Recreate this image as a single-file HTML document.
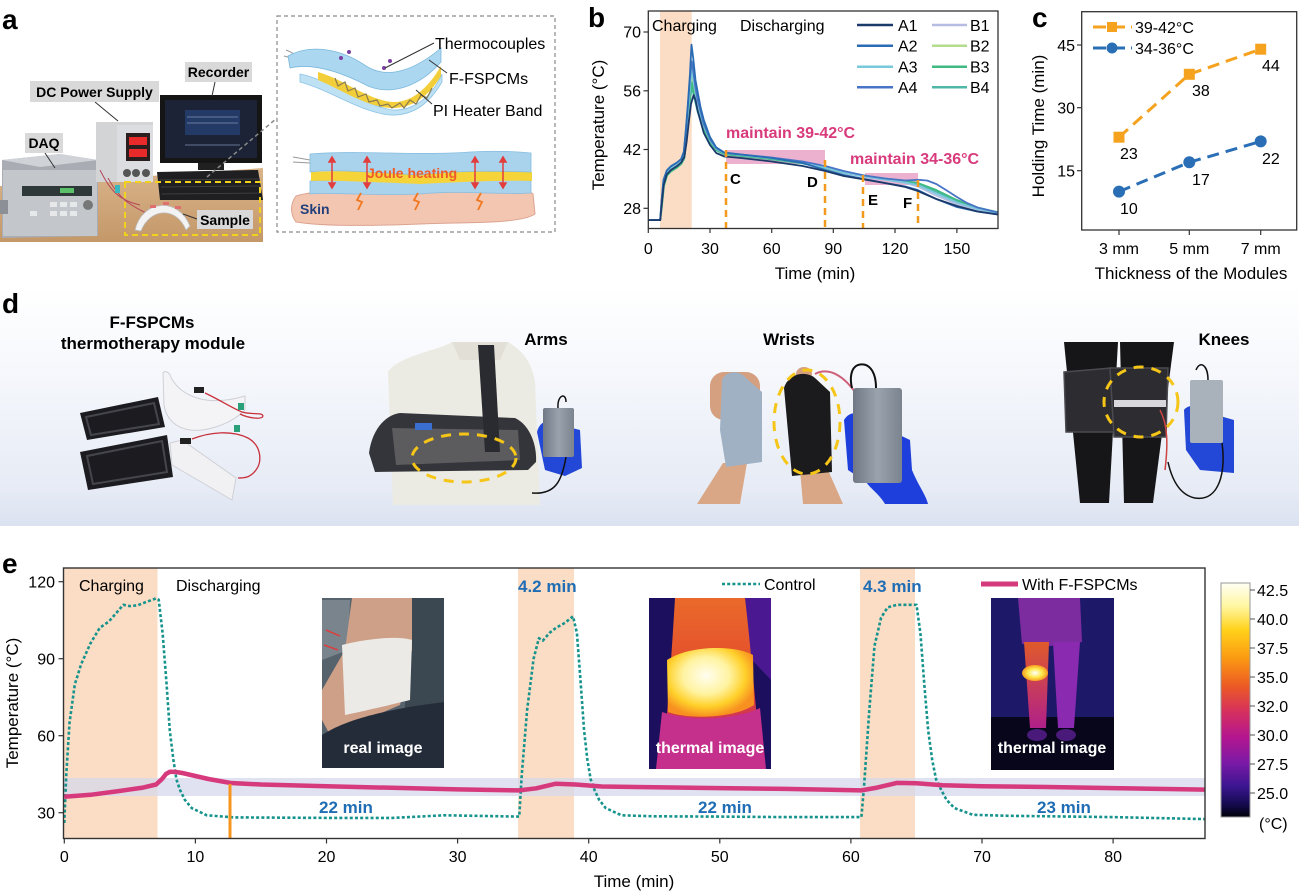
<!DOCTYPE html>
<html><head><meta charset="utf-8"><style>
html,body{margin:0;padding:0;background:#fff;}
svg{display:block;font-family:"Liberation Sans",Arial,sans-serif;}
</style></head><body>
<svg width="1299" height="892" viewBox="0 0 1299 892" xmlns="http://www.w3.org/2000/svg">
<defs>
<linearGradient id="dbg" x1="0" y1="0" x2="0" y2="1">
<stop offset="0" stop-color="#ffffff"/><stop offset="0.35" stop-color="#f6f8fc"/><stop offset="0.85" stop-color="#e6ebf5"/><stop offset="1" stop-color="#dbe2f0"/>
</linearGradient>
<linearGradient id="cbar" x1="0" y1="0" x2="0" y2="1">
<stop offset="0" stop-color="#fffff4"/><stop offset="0.1" stop-color="#fff6a0"/><stop offset="0.2" stop-color="#ffd21a"/><stop offset="0.32" stop-color="#fb9a12"/><stop offset="0.44" stop-color="#ec5a24"/><stop offset="0.55" stop-color="#d6305e"/><stop offset="0.66" stop-color="#b3168f"/><stop offset="0.77" stop-color="#7a1aa6"/><stop offset="0.87" stop-color="#3a1590"/><stop offset="0.95" stop-color="#120a4a"/><stop offset="1" stop-color="#000008"/>
</linearGradient>
<linearGradient id="leg1" x1="0" y1="0" x2="0" y2="1">
<stop offset="0" stop-color="#ea6a2a"/><stop offset="0.5" stop-color="#e2482e"/><stop offset="1" stop-color="#b8188c"/>
</linearGradient>
<radialGradient id="hot1" cx="0.45" cy="0.4" r="0.6">
<stop offset="0" stop-color="#fffef0"/><stop offset="0.45" stop-color="#fff3a0"/><stop offset="0.75" stop-color="#ffd02a"/><stop offset="1" stop-color="#f79020"/>
</radialGradient>
<radialGradient id="hot2" cx="0.5" cy="0.5" r="0.55">
<stop offset="0" stop-color="#ffffff"/><stop offset="0.5" stop-color="#ffe84a"/><stop offset="1" stop-color="#f58a1a"/>
</radialGradient>
<linearGradient id="leg2" x1="0" y1="0" x2="0" y2="1">
<stop offset="0" stop-color="#e05a2a"/><stop offset="1" stop-color="#b0208a"/>
</linearGradient>
<linearGradient id="bank" x1="0" y1="0" x2="1" y2="0">
<stop offset="0" stop-color="#6f7884"/><stop offset="0.5" stop-color="#9aa3ad"/><stop offset="1" stop-color="#7a838e"/>
</linearGradient>
<linearGradient id="desk" x1="0" y1="0" x2="0" y2="1">
<stop offset="0" stop-color="#d9b48a"/><stop offset="1" stop-color="#c49869"/>
</linearGradient>
<clipPath id="cr"><rect x="322" y="598" width="122" height="170"/></clipPath>
<clipPath id="ct1"><rect x="649" y="598" width="122" height="171"/></clipPath>
<clipPath id="ct2"><rect x="991" y="598" width="123" height="172"/></clipPath>
</defs>

<!-- ===================== PANEL A ===================== -->
<text x="2" y="29" font-size="28" font-weight="bold">a</text>
<!-- desk -->
<path d="M0,186 L150,176 L263,168 L263,242 L0,242 Z" fill="url(#desk)"/>
<!-- DAQ -->
<path d="M2,160 L60,154 L98,160 L98,236 L2,238 Z" fill="#a9adb3"/>
<path d="M2,160 L60,154 L98,160 L40,167 Z" fill="#cfd3d7"/>
<rect x="3" y="170" width="94" height="66" fill="#c3c7cc"/>
<rect x="22" y="186" width="70" height="10" fill="#2e3838"/>
<rect x="60" y="188" width="14" height="5" fill="#5ac06a"/>
<g fill="#e6e8ea"><rect x="50" y="202" width="7" height="5"/><rect x="60" y="202" width="7" height="5"/><rect x="70" y="202" width="7" height="5"/><rect x="50" y="211" width="7" height="5"/><rect x="60" y="211" width="7" height="5"/><rect x="70" y="211" width="7" height="5"/><rect x="30" y="211" width="7" height="5"/></g>
<circle cx="88" cy="205" r="5" fill="#777"/>
<rect x="0" y="200" width="8" height="14" fill="#8c9096"/>
<!-- DC supply -->
<rect x="96" y="122" width="57" height="60" fill="#d2d4d6"/>
<rect x="117" y="125" width="36" height="57" fill="#dcdde0"/>
<rect x="126" y="133" width="24" height="28" fill="#2a1e1e"/>
<rect x="129" y="137" width="18" height="8" fill="#e82a2a"/>
<rect x="129" y="149" width="18" height="8" fill="#e82a2a"/>
<circle cx="127" cy="173" r="4" fill="#555"/><circle cx="136" cy="173" r="4" fill="#555"/><circle cx="146" cy="173" r="4" fill="#555"/>
<!-- monitor -->
<rect x="160" y="95" width="102" height="68" fill="#151515"/>
<rect x="165" y="100" width="92" height="58" fill="#1c2336"/>
<rect x="185" y="110" width="55" height="25" fill="#243a66"/>
<g stroke="#7f8fb0" stroke-width="0.8"><line x1="187" y1="117" x2="238" y2="117"/><line x1="187" y1="123" x2="238" y2="123"/><line x1="185" y1="145" x2="240" y2="145"/></g>
<rect x="198" y="163" width="26" height="7" fill="#202020"/>
<!-- keyboard -->
<path d="M157,172 L258,170 L263,200 L160,200 Z" fill="#1f1f21"/>
<g stroke="#3e3e42" stroke-width="1"><line x1="160" y1="180" x2="260" y2="179"/><line x1="161" y1="187" x2="261" y2="186"/><line x1="162" y1="194" x2="262" y2="193"/></g>
<!-- wires -->
<path d="M100,170 C110,190 118,200 140,205 M108,178 C120,200 130,205 150,215" stroke="#b5485a" stroke-width="1" fill="none"/>
<rect x="115" y="185" width="5" height="8" fill="#3ab8c0"/>
<!-- sample -->
<path d="M135,230 C142,200 178,196 190,226 L186,230 C176,206 150,208 141,231 Z" fill="#f3f3f3" stroke="#bbb" stroke-width="0.8"/>
<g fill="#e07070"><rect x="150" y="205" width="6" height="3"/><rect x="163" y="202" width="6" height="3"/><rect x="175" y="206" width="6" height="3"/></g>
<!-- yellow dashed -->
<rect x="125" y="182" width="135" height="53" fill="none" stroke="#f1d21c" stroke-width="2" stroke-dasharray="6 4"/>
<!-- gray leader to box -->
<line x1="207" y1="177" x2="277" y2="118" stroke="#8a8a8a" stroke-width="1.5" stroke-dasharray="4 3"/>
<!-- labels -->
<g stroke="#333" stroke-width="1"><line x1="215" y1="82" x2="212" y2="96"/><line x1="95" y1="102" x2="118" y2="121"/><line x1="45" y1="153" x2="55" y2="168"/><line x1="197" y1="219" x2="183" y2="214"/></g>
<rect x="185" y="62" width="67" height="20" fill="#d9d9d9"/>
<text x="218.5" y="77" font-size="14" font-weight="bold" text-anchor="middle">Recorder</text>
<rect x="30" y="81" width="129" height="21" fill="#d9d9d9"/>
<text x="94.5" y="97" font-size="14" font-weight="bold" text-anchor="middle">DC Power Supply</text>
<rect x="25" y="133" width="38" height="20" fill="#d9d9d9"/>
<text x="44" y="148" font-size="14" font-weight="bold" text-anchor="middle">DAQ</text>
<rect x="197" y="210" width="56" height="19" fill="#d9d9d9"/>
<text x="225" y="225" font-size="14" font-weight="bold" text-anchor="middle">Sample</text>

<!-- illustration box -->
<rect x="277" y="16" width="278" height="216" fill="none" stroke="#8a8a8a" stroke-width="1.2" stroke-dasharray="4 3"/>
<path d="M286,50 C292,52 295,55 300,58 M284,56 C292,58 296,60 302,62" stroke="#999" fill="none" stroke-width="1"/>
<path d="M300,74 C330,80 360,104 392,110 C415,111 432,96 442,74 L442,82 C430,102 415,116 390,115 C360,112 330,90 300,82 Z" fill="#bfe1f4" stroke="#8cc4e6" stroke-width="0.8"/>
<path d="M318,72 C345,80 366,99 392,102 C412,103 428,88 441,66 L441,76 C428,97 412,109 390,108 C365,106 342,90 318,80 Z" fill="#f2cf3a"/>
<g stroke="#8a7a50" stroke-width="1.2" fill="none"><path d="M335,78 L338,86 L345,82 L348,91 L355,88 L358,97 L366,94 L369,102 L377,100 L380,106 L388,104 L392,108 L400,103 L404,108 L410,100 L416,104 L421,95 L427,98 L432,88"/></g>
<path d="M288,56 C310,44 340,48 366,66 C388,80 415,70 441,48 L441,62 C420,86 392,96 368,86 C345,74 315,62 290,68 Z" fill="#acd7f0" stroke="#7ab8dd" stroke-width="0.8"/>
<g fill="#7b3fa0"><circle cx="349" cy="52" r="2"/><circle cx="341" cy="58" r="2"/><circle cx="390" cy="61" r="2"/><circle cx="384" cy="68" r="2"/></g>
<g stroke="#333" stroke-width="1"><line x1="434" y1="43" x2="385" y2="68"/><line x1="447" y1="73" x2="429" y2="60"/><line x1="432" y1="104" x2="416" y2="90"/></g>
<text x="435" y="49" font-size="16">Thermocouples</text>
<text x="449" y="84" font-size="16">F-FSPCMs</text>
<text x="433" y="116" font-size="16">PI Heater Band</text>
<!-- layered bottom -->
<path d="M296,196 C330,186 400,192 460,188 C500,186 525,188 533,194 L535,214 C520,224 470,222 420,224 C370,226 320,226 296,222 C290,214 290,204 296,196 Z" fill="#f3c6b2" stroke="#dca390" stroke-width="1"/>
<path d="M310,181 C360,178 420,184 470,180 C500,178 520,180 531,181 L531,193 C500,195 460,190 420,194 C370,196 330,192 310,194 Z" fill="#a9d3ec" stroke="#86bde0" stroke-width="0.8"/>
<path d="M311,172 C360,169 420,175 470,171 C500,169 520,171 532,172 L532,181 C500,180 460,182 420,184 C370,182 330,180 311,181 Z" fill="#f5d43a"/>
<path d="M310,154 C360,150 420,156 470,152 C500,150 520,152 531,153 L531,172 C500,171 460,170 420,175 C370,172 330,169 310,172 Z" fill="#a9d3ec" stroke="#86bde0" stroke-width="0.8"/>
<path d="M293,157 L310,160 M293,162 L310,163" stroke="#999" stroke-width="1"/>
<g stroke="#e23c3c" stroke-width="1.5" fill="#e23c3c">
<line x1="332" y1="159" x2="332" y2="186"/><line x1="367" y1="159" x2="367" y2="186"/><line x1="475" y1="159" x2="475" y2="186"/><line x1="503" y1="159" x2="503" y2="186"/>
<path d="M329,162 L332,157 L335,162 Z M329,183 L332,188 L335,183 Z M364,162 L367,157 L370,162 Z M364,183 L367,188 L370,183 Z M472,162 L475,157 L478,162 Z M472,183 L475,188 L478,183 Z M500,162 L503,157 L506,162 Z M500,183 L503,188 L506,183 Z"/>
</g>
<text x="367" y="178" font-size="14" font-weight="bold" fill="#f05a28">Joule heating</text>
<g stroke="#f07820" stroke-width="1.8" fill="none"><path d="M361,193 L357,200 L362,202 L358,210"/><path d="M418,193 L414,200 L419,202 L415,210"/><path d="M481,193 L477,200 L482,202 L478,210"/></g>
<text x="300" y="214" font-size="14" font-weight="bold" fill="#23407a">Skin</text>

<!-- ===================== PANEL B ===================== -->
<text x="588" y="27" font-size="28" font-weight="bold">b</text>
<rect x="660" y="11" width="31.7" height="217" fill="#fbdcc4"/>
<rect x="726" y="150" width="99" height="14" fill="#e8a3c6" opacity="0.85"/>
<rect x="865" y="173" width="53" height="12" fill="#e8a3c6" opacity="0.85"/>
<g fill="none" stroke-width="1.8" stroke-linejoin="round">
<polyline stroke="#b7bde2" points="648.3,220.1 660.2,220.1 661.7,204.1 663.7,183.1 666.8,173.5 670.9,169.3 677.1,165.5 681.2,162.1 684.3,155.8 686.4,137 688.4,111.8 690.5,86.6 691.9,74 693.6,86.6 697.7,107.6 703.8,128.6 710,141.2 716.2,149.6 724.4,153.7 740.9,155.4 771.7,158.8 802.6,163 825.2,168 843.7,173 864.3,176.8 884.9,179.8 905.4,183.1 917.8,186.5 936.3,195.7 956.9,204.1 977.4,210 998,213.4"/>
<polyline stroke="#b3dc8c" points="648.3,220.1 660.2,220.1 661.7,205 663.7,184 666.8,174.5 670.9,170.3 677.1,166.5 681.2,163 684.3,156.8 686.4,138 688.4,113 690.5,90 691.9,78.2 693.6,90 697.7,109 703.8,129.5 710,141.5 716.2,149.8 724.4,153.8 740.9,155.6 771.7,158.8 802.6,162.8 825.2,167.5 843.7,172.3 864.3,176 884.9,179 905.4,182 917.8,184.5 936.3,192 956.9,201.5 977.4,208.5 998,212.8"/>
<polyline stroke="#4fb7a8" points="648.3,220.1 660.2,220.1 661.9,206 663.9,186 667,175.5 671,171.3 677.1,167.5 681.2,164 684.3,158.5 686.4,141 688.4,119 690.5,97 691.9,86.6 693.6,95 697.7,112 703.8,131 710,142.5 716.2,150.3 724.4,154.3 740.9,156 771.7,159.3 802.6,163.5 825.2,168 843.7,172.8 864.3,176.3 884.9,179.3 905.4,182.3 917.8,184 936.3,191.5 956.9,201 977.4,208.2 998,212.6"/>
<polyline stroke="#3fba82" points="648.3,220.1 660.2,220.1 661.9,206 663.9,186 667,175.5 671,171.3 677.1,167.5 681.2,164 684.3,158 686.4,140 688.4,116 690.5,93 691.9,82.4 693.6,92 697.7,110 703.8,130 710,142 716.2,150 724.4,154 740.9,155.8 771.7,159 802.6,163 825.2,167.2 843.7,172 864.3,175.5 884.9,178.5 905.4,181 917.8,183 936.3,190 956.9,200 977.4,207.5 998,212.3"/>
<polyline stroke="#7ac8dc" points="648.3,220.1 660.2,220.1 661.6,203 663.6,182 666.8,172.5 670.9,168.3 677.1,164.5 681.2,161 684,154.5 686,136 688.2,110 690.3,84 691.9,69.8 693.6,82 697.7,104 703.8,126 710,140 716.2,148.8 724.4,153 740.9,155 771.7,158.2 802.6,162.5 825.2,167.5 843.7,172.5 864.3,176.5 884.9,179.5 905.4,182.5 917.8,185 936.3,193.5 956.9,202.5 977.4,209 998,213"/>
<polyline stroke="#4874c6" points="648.3,220.1 660.2,220.1 661.5,202 663.5,180 666.8,170.5 670.9,166.3 677.1,162.5 681.2,159 683.8,152 685.8,133 688,105 690,78 691.7,61.4 693.4,72 695.5,88 697.7,100 703.8,124 710,139 716.2,148 724.4,152.8 740.9,154.5 771.7,157.5 802.6,161.5 825.2,166 843.7,171 864.3,175.5 884.9,178.5 905.4,180.5 917.8,179.8 927,180.5 936.3,184 946,190 956.9,197 967,203 977.4,207.5 998,212.5"/>
<polyline stroke="#2a6cb4" points="648.3,220.1 660.2,220.1 661.5,202 663.5,180 666.8,170.5 670.9,166.3 677.1,162.5 681.2,159 683.8,152 685.8,130 687.8,105 689.9,75 691.5,44.6 693.2,58 695.5,80 697.7,92 700.7,108 703.8,120 710,137 716.2,147.4 724.4,152.5 740.9,154.5 771.7,158 802.6,163 825.2,170 843.7,175 864.3,179 884.9,183 905.4,186.5 917.8,190 936.3,199 956.9,207 977.4,211.5 998,214.5"/>
<polyline stroke="#1b3a6b" points="648.3,220.1 660.2,220.1 661.7,205 663.7,185 666.8,174.5 670.9,170 677.1,166 681.2,162.5 684.3,157 686.6,142 688.8,122 691,104 693.6,95 695.5,100 697.7,111 703.8,133 710,145 716.2,153 724.4,156.5 740.9,158 771.7,161.5 802.6,166 825.2,171 843.7,176 864.3,179.5 884.9,183 905.4,187 917.8,191 936.3,199 956.9,206 977.4,211.5 998,214.5"/>
</g>
<g stroke="#f39a1e" stroke-width="2.5" stroke-dasharray="7 5"><line x1="726" y1="150" x2="726" y2="228"/><line x1="825" y1="160" x2="825" y2="228"/><line x1="863" y1="175" x2="863" y2="228"/><line x1="918" y1="180" x2="918" y2="228"/></g>
<g font-size="15" font-weight="bold"><text x="730" y="184">C</text><text x="807" y="187">D</text><text x="868" y="205">E</text><text x="903" y="208">F</text></g>
<text x="726" y="138" font-size="16" font-weight="bold" fill="#d83a7c">maintain 39-42°C</text>
<text x="850" y="164" font-size="16" font-weight="bold" fill="#d83a7c">maintain 34-36°C</text>
<text x="652" y="31" font-size="16">Charging</text>
<text x="740" y="31" font-size="16">Discharging</text>
<g stroke-width="2.5">
<line x1="857" y1="25" x2="893" y2="25" stroke="#1b3a6b"/><line x1="857" y1="45.7" x2="893" y2="45.7" stroke="#2a6cb4"/><line x1="857" y1="66.7" x2="893" y2="66.7" stroke="#7ac8dc"/><line x1="857" y1="87.3" x2="893" y2="87.3" stroke="#4874c6"/>
<line x1="932" y1="25" x2="967" y2="25" stroke="#b7bde2"/><line x1="932" y1="45.7" x2="967" y2="45.7" stroke="#b3dc8c"/><line x1="932" y1="66.7" x2="967" y2="66.7" stroke="#3fba82"/><line x1="932" y1="87.3" x2="967" y2="87.3" stroke="#4fb7a8"/>
</g>
<g font-size="16"><text x="898" y="31">A1</text><text x="898" y="51.5">A2</text><text x="898" y="72.5">A3</text><text x="898" y="93">A4</text>
<text x="970" y="31">B1</text><text x="970" y="51.5">B2</text><text x="970" y="72.5">B3</text><text x="970" y="93">B4</text></g>
<rect x="648.3" y="11" width="349.7" height="217.5" fill="none" stroke="#333" stroke-width="1.3"/>
<g stroke="#333" stroke-width="1.2">
<line x1="648.3" y1="228.5" x2="648.3" y2="233"/><line x1="710" y1="228.5" x2="710" y2="233"/><line x1="771.7" y1="228.5" x2="771.7" y2="233"/><line x1="833.3" y1="228.5" x2="833.3" y2="233"/><line x1="895" y1="228.5" x2="895" y2="233"/><line x1="956.9" y1="228.5" x2="956.9" y2="233"/>
<line x1="643.5" y1="32" x2="648.3" y2="32"/><line x1="643.5" y1="90.8" x2="648.3" y2="90.8"/><line x1="643.5" y1="149.5" x2="648.3" y2="149.5"/><line x1="643.5" y1="208.3" x2="648.3" y2="208.3"/>
</g>
<g font-size="16" text-anchor="middle"><text x="648.3" y="254">0</text><text x="710" y="254">30</text><text x="771.7" y="254">60</text><text x="833.3" y="254">90</text><text x="895" y="254">120</text><text x="956.9" y="254">150</text></g>
<g font-size="16" text-anchor="end"><text x="641" y="37.7">70</text><text x="641" y="96.5">56</text><text x="641" y="155.2">42</text><text x="641" y="214">28</text></g>
<text x="815" y="279" font-size="17" text-anchor="middle">Time (min)</text>
<text transform="translate(604,125) rotate(-90)" font-size="17" text-anchor="middle">Temperature (°C)</text>

<!-- ===================== PANEL C ===================== -->
<text x="1032" y="27" font-size="28" font-weight="bold">c</text>
<rect x="1081.7" y="11.7" width="215" height="218.3" fill="none" stroke="#333" stroke-width="1.3"/>
<g stroke="#333" stroke-width="1.2">
<line x1="1119" y1="230" x2="1119" y2="235"/><line x1="1189.3" y1="230" x2="1189.3" y2="235"/><line x1="1260.7" y1="230" x2="1260.7" y2="235"/>
<line x1="1077" y1="45" x2="1081.7" y2="45"/><line x1="1077" y1="107.7" x2="1081.7" y2="107.7"/><line x1="1077" y1="170.7" x2="1081.7" y2="170.7"/>
</g>
<g font-size="16" text-anchor="end"><text x="1075" y="51">45</text><text x="1075" y="113.5">30</text><text x="1075" y="176.5">15</text></g>
<g font-size="16" text-anchor="middle"><text x="1119" y="254">3 mm</text><text x="1189.3" y="254">5 mm</text><text x="1260.7" y="254">7 mm</text></g>
<text x="1191" y="279" font-size="17" text-anchor="middle">Thickness of the Modules</text>
<text transform="translate(1044,126) rotate(-90)" font-size="17" text-anchor="middle">Holding Time (min)</text>
<polyline points="1119,137.2 1189.3,74.3 1260.7,49.2" fill="none" stroke="#f5a21f" stroke-width="3" stroke-dasharray="12 7"/>
<polyline points="1119,191.6 1189.3,162.3 1260.7,141.4" fill="none" stroke="#2a6fb6" stroke-width="3" stroke-dasharray="12 7"/>
<g fill="#f5a21f"><rect x="1113.5" y="131.7" width="11" height="11"/><rect x="1183.8" y="68.8" width="11" height="11"/><rect x="1255.2" y="43.7" width="11" height="11"/></g>
<g fill="#2a6fb6"><circle cx="1119" cy="191.6" r="6"/><circle cx="1189.3" cy="162.3" r="6"/><circle cx="1260.7" cy="141.4" r="6"/></g>
<g font-size="16"><text x="1120" y="159">23</text><text x="1192" y="96">38</text><text x="1262" y="71">44</text><text x="1120" y="214">10</text><text x="1192" y="185">17</text><text x="1262" y="164">22</text></g>
<line x1="1093" y1="27" x2="1132" y2="27" stroke="#f5a21f" stroke-width="3" stroke-dasharray="13 6"/>
<rect x="1107" y="22" width="10" height="10" fill="#f5a21f"/>
<text x="1135" y="33" font-size="16">39-42°C</text>
<line x1="1093" y1="48" x2="1132" y2="48" stroke="#2a6fb6" stroke-width="3" stroke-dasharray="13 6"/>
<circle cx="1112" cy="48" r="5.5" fill="#2a6fb6"/>
<text x="1135" y="54" font-size="16">34-36°C</text>

<!-- ===================== PANEL D ===================== -->
<rect x="0" y="286" width="1299" height="240" fill="url(#dbg)"/>
<text x="2" y="313" font-size="28" font-weight="bold">d</text>
<text x="152" y="328" font-size="17" font-weight="bold" text-anchor="middle">F-FSPCMs</text>
<text x="153" y="349" font-size="17" font-weight="bold" text-anchor="middle">thermotherapy module</text>
<text x="546" y="345" font-size="17" font-weight="bold" text-anchor="middle">Arms</text>
<text x="789" y="345" font-size="17" font-weight="bold" text-anchor="middle">Wrists</text>
<text x="1224" y="345" font-size="17" font-weight="bold" text-anchor="middle">Knees</text>
<!-- module -->
<path d="M80,413 L158,397 L165,427 L87,440 Z" fill="#1c1c20"/>
<path d="M86,417 L154,403 L159,424 L91,435 Z" fill="none" stroke="#45454c" stroke-width="2"/>
<path d="M80,452 L167,435 L173,477 L88,490 Z" fill="#1c1c20"/>
<path d="M87,456 L162,441 L167,472 L93,484 Z" fill="none" stroke="#45454c" stroke-width="2"/>
<path d="M163,373 C164,371 168,371 170,375 C178,395 205,408 245,396 L245,410 C230,425 205,432 190,430 C175,428 166,418 164,405 Z" fill="#f4f4f6" stroke="#cfd0d6" stroke-width="1"/>
<path d="M170,443 L182,440 L236,478 L232,500 L172,465 Z" fill="#f1f1f3" stroke="#cfd0d6" stroke-width="1"/>
<g fill="none" stroke="#c8303c" stroke-width="1.3"><path d="M205,393 C220,400 232,408 242,412 C252,415 262,412 263,416 C262,420 248,418 240,414"/><path d="M192,439 C210,432 232,430 248,438 C262,446 262,462 256,470 C250,478 244,478 238,478"/></g>
<rect x="194" y="387" width="10" height="6" fill="#222"/><rect x="180" y="438" width="11" height="6" fill="#222"/>
<rect x="238" y="403" width="6" height="7" fill="#2aa07a"/><rect x="234" y="425" width="6" height="7" fill="#2aa07a"/>
<!-- arms -->
<path d="M388,372 C398,356 440,350 452,342 L508,342 C522,350 532,362 535,382 L540,505 L393,505 Z" fill="#ecebe3"/>
<path d="M452,342 L508,342 L500,360 L460,360 Z" fill="#e2e0d6"/>
<path d="M369,453 C372,430 385,415 400,413 L515,418 C530,425 537,445 536,462 L528,470 L375,472 Z" fill="#34353b"/>
<path d="M392,428 L518,430 L520,460 L396,465 Z" fill="#5c5b5e"/>
<rect x="415" y="423" width="17" height="7" fill="#3a6fd0"/>
<path d="M478,345 L494,345 L500,452 L485,452 Z" fill="#2a2b30"/>
<path d="M537,432 C540,420 550,418 560,425 L580,430 L582,468 L565,476 L545,470 Z" fill="#2347d6"/>
<rect x="543" y="408" width="31" height="49" rx="2" fill="url(#bank)"/>
<path d="M558,408 C557,395 566,392 566,402 M566,457 C562,480 556,495 532,493" fill="none" stroke="#111" stroke-width="1.5"/>
<ellipse cx="464" cy="458" rx="52" ry="24" fill="none" stroke="#f5c518" stroke-width="3" stroke-dasharray="10 8"/>
<!-- wrists -->
<path d="M697,504 L723,463 L747,463 L740,504 Z" fill="#d9a786"/>
<rect x="710" y="372" width="50" height="48" rx="14" fill="#d4a080"/>
<path d="M722,380 C726,370 740,370 746,378 L762,392 L762,462 L726,467 L720,430 Z" fill="#9fb1c3"/>
<path d="M803,504 L800,470 L828,470 L843,504 Z" fill="#d9a786"/>
<ellipse cx="804" cy="374" rx="8" ry="7" fill="#d4a080"/>
<path d="M784,388 C788,374 805,370 815,378 L830,392 L832,472 L792,476 Z" fill="#1b1b1e"/>
<ellipse cx="807" cy="422" rx="33" ry="52" fill="none" stroke="#f5c518" stroke-width="3" stroke-dasharray="10 8"/>
<path d="M815,374 C830,366 845,378 855,392" fill="none" stroke="#d0607a" stroke-width="2"/>
<path d="M876,388 C876,370 868,362 858,365 C850,368 850,380 852,388" fill="none" stroke="#111" stroke-width="2"/>
<path d="M844,420 C850,410 860,412 868,420 L910,440 L912,470 C918,485 926,495 928,504 L885,504 C880,495 870,488 866,482 L848,470 Z" fill="#1f3fdc"/>
<rect x="853" y="388" width="49" height="95" rx="3" fill="url(#bank)"/>
<!-- knees -->
<path d="M1064,342 L1118,342 L1109,503 L1080,503 Z" fill="#161618"/>
<path d="M1120,342 L1174,342 L1153,503 L1124,503 Z" fill="#161618"/>
<path d="M1064,372 L1112,368 L1114,432 L1066,432 Z" fill="#2c2c31" stroke="#4a4a50" stroke-width="1.5"/>
<path d="M1110,368 L1168,368 L1166,437 L1114,437 Z" fill="#2c2c31" stroke="#4a4a50" stroke-width="1.5"/>
<rect x="1114" y="400" width="52" height="7" fill="#d8d8dc"/>
<ellipse cx="1141" cy="402" rx="37" ry="35" fill="none" stroke="#f5c518" stroke-width="3" stroke-dasharray="10 8"/>
<path d="M1160,410 C1168,425 1168,445 1165,470" fill="none" stroke="#c44" stroke-width="1.5"/>
<path d="M1184,410 C1188,404 1200,404 1206,412 L1234,420 L1234,473 L1200,470 L1186,450 Z" fill="#2347d6"/>
<rect x="1190" y="380" width="33" height="63" rx="2" fill="#a9b1ba"/>
<path d="M1208,380 C1208,365 1200,360 1196,370 M1222,443 C1226,470 1220,502 1195,498 C1180,495 1172,480 1168,462" fill="none" stroke="#111" stroke-width="1.5"/>

<!-- ===================== PANEL E ===================== -->
<text x="2" y="573" font-size="28" font-weight="bold">e</text>
<g fill="#fbdcc4"><rect x="64" y="568.5" width="93.5" height="270"/><rect x="518" y="568.5" width="56" height="270"/><rect x="860" y="568.5" width="55" height="270"/></g>
<rect x="64" y="778" width="1141" height="18" fill="#d6d8ec" opacity="0.75"/>
<!-- real image -->
<g clip-path="url(#cr)">
<rect x="322" y="598" width="122" height="170" fill="#56626c"/>
<rect x="405" y="598" width="39" height="170" fill="#3b4751"/>
<path d="M322,600 L350,600 L348,650 L322,660 Z" fill="#7a848c"/>
<path d="M352,598 L412,598 L412,650 L400,705 L330,735 L322,720 L322,690 L345,650 Z" fill="#cfa088"/>
<path d="M342,645 C360,640 395,635 412,640 L410,700 C390,705 360,712 345,715 Z" fill="#eceae6"/>
<path d="M322,735 C345,720 380,712 415,706 L444,702 L444,768 L322,768 Z" fill="#242c3a"/>
<path d="M326,630 L340,636 M324,645 L338,650" stroke="#d84040" stroke-width="1.5"/>
</g>
<text x="383" y="753" font-size="16" font-weight="bold" fill="#fff" text-anchor="middle">real image</text>
<!-- thermal 1 -->
<g clip-path="url(#ct1)">
<rect x="649" y="598" width="122" height="171" fill="#1b0f5e"/>
<path d="M735,598 L771,598 L771,680 L752,660 Z" fill="#4a1890"/>
<path d="M675,598 L745,598 C750,640 755,700 762,769 L662,769 C667,720 672,650 675,598 Z" fill="url(#leg1)"/>
<path d="M667,660 C690,645 735,645 753,655 L754,705 C735,718 690,720 668,712 Z" fill="url(#hot1)"/>
<path d="M662,712 C690,722 735,720 760,708 L766,769 L656,769 Z" fill="#c4308c"/>
</g>
<text x="710" y="753" font-size="16" font-weight="bold" fill="#fff" text-anchor="middle">thermal image</text>
<!-- thermal 2 -->
<g clip-path="url(#ct2)">
<rect x="991" y="598" width="123" height="172" fill="#1d1868"/>
<rect x="991" y="717" width="123" height="53" fill="#07061a"/>
<path d="M1018,598 L1080,598 L1082,642 L1050,646 L1022,644 Z" fill="#7d2ca0"/>
<path d="M1024,642 L1049,642 L1046,728 L1030,728 Z" fill="url(#leg2)"/>
<path d="M1053,642 L1080,642 L1074,728 L1058,728 Z" fill="#8a2ab0"/>
<ellipse cx="1037" cy="735" rx="10" ry="6" fill="#4a1a7a"/><ellipse cx="1066" cy="735" rx="10" ry="6" fill="#4a1a7a"/>
<ellipse cx="1035" cy="673" rx="13" ry="8" fill="url(#hot2)"/>
</g>
<text x="1052" y="753" font-size="16" font-weight="bold" fill="#fff" text-anchor="middle">thermal image</text>
<!-- curves -->
<polyline fill="none" stroke="#16938c" stroke-width="2.6" stroke-dasharray="3 2.2" stroke-linejoin="round" points="64.3,823 66.3,774.2 69.5,722.9 74.8,684.4 81.3,663.8 90.5,643.3 99.7,627.9 108.9,621.5 116.7,612.5 123.3,604.8 129.9,606.1 137.7,605.3 145.6,602.2 156.1,598.4 158.7,599.7 162.6,633 166.6,684.4 169.8,730.6 173.4,759.9 176.4,779.4 180.1,790.1 184.9,799.9 191.7,808.1 206.8,815.3 234.7,817.4 326.5,817.9 392.1,817.9 444.5,815.3 519.2,816.6 521.8,774.2 527.1,710.1 533.6,658.7 538.9,638.2 542.8,640.7 549.4,633 555.9,627.9 565.1,622.8 573,616.3 576.9,633 580.8,684.4 584.1,730.6 587.4,759.9 590.7,779.4 594.6,790.1 599.2,799.9 605.7,808.1 621.5,815.3 654.3,816.3 719.8,816.6 785.4,817.1 861.4,817.1 864,787.1 869.3,710.1 874.5,645.9 881.1,617.6 887.6,607.4 896.8,604.8 916.5,604.8 920.4,633 924.3,684.4 928.2,730.6 932.2,759.9 936.1,779.4 941.3,790.1 946.6,799.9 954.5,808.1 972.8,814.8 1008.2,815.8 1113.1,817.1 1205,819.1"/>
<polyline fill="none" stroke="#d63a7c" stroke-width="4.5" stroke-linejoin="round" points="64.3,796.8 90.5,794.8 116.7,791.4 143,787.6 156.1,784.5 162,779 166,774 170,771.7 176,772 182.3,773 195.4,776 208.5,779 230.8,783 261,784.5 326.5,786.3 392.1,787.8 457.6,789.4 519.2,790.4 536.3,788.3 555.9,783.7 575.6,784.5 601.8,786.5 654.3,787.3 719.8,788.1 785.4,788.9 861.4,790.4 877.1,787.6 896.8,782.9 916.5,783.2 942.7,785.3 982,786.3 1047.6,787 1113.1,788.1 1205,789.6"/>
<line x1="230" y1="784" x2="230" y2="838.5" stroke="#f7941d" stroke-width="3"/>
<!-- texts e -->
<text x="79" y="591" font-size="16">Charging</text>
<text x="176" y="591" font-size="16">Discharging</text>
<g font-size="17" font-weight="bold" fill="#1f6db5"><text x="518" y="592">4.2 min</text><text x="863" y="592">4.3 min</text><text x="319" y="813">22 min</text><text x="698" y="813">22 min</text><text x="1037" y="813">23 min</text></g>
<line x1="722" y1="584" x2="760" y2="584" stroke="#16938c" stroke-width="2.6" stroke-dasharray="3 2.2"/>
<text x="764" y="590" font-size="16">Control</text>
<line x1="981" y1="584" x2="1018" y2="584" stroke="#d63a7c" stroke-width="5"/>
<text x="1022" y="590" font-size="16">With F-FSPCMs</text>
<rect x="63.5" y="568" width="1141.5" height="270.5" fill="none" stroke="#333" stroke-width="1.4"/>
<g stroke="#333" stroke-width="1.2">
<line x1="64.3" y1="838.5" x2="64.3" y2="843.5"/><line x1="195.4" y1="838.5" x2="195.4" y2="843.5"/><line x1="326.5" y1="838.5" x2="326.5" y2="843.5"/><line x1="457.6" y1="838.5" x2="457.6" y2="843.5"/><line x1="588.7" y1="838.5" x2="588.7" y2="843.5"/><line x1="719.8" y1="838.5" x2="719.8" y2="843.5"/><line x1="850.9" y1="838.5" x2="850.9" y2="843.5"/><line x1="982" y1="838.5" x2="982" y2="843.5"/><line x1="1113.1" y1="838.5" x2="1113.1" y2="843.5"/>
<line x1="58.5" y1="581.7" x2="63.5" y2="581.7"/><line x1="58.5" y1="658.7" x2="63.5" y2="658.7"/><line x1="58.5" y1="735.7" x2="63.5" y2="735.7"/><line x1="58.5" y1="812.7" x2="63.5" y2="812.7"/>
</g>
<g font-size="16" text-anchor="middle"><text x="64.3" y="862">0</text><text x="195.4" y="862">10</text><text x="326.5" y="862">20</text><text x="457.6" y="862">30</text><text x="588.7" y="862">40</text><text x="719.8" y="862">50</text><text x="850.9" y="862">60</text><text x="982" y="862">70</text><text x="1113.1" y="862">80</text></g>
<g font-size="16" text-anchor="end"><text x="55" y="587.5">120</text><text x="55" y="664.5">90</text><text x="55" y="741.5">60</text><text x="55" y="818.5">30</text></g>
<text x="634" y="887" font-size="17" text-anchor="middle">Time (min)</text>
<text transform="translate(18,703) rotate(-90)" font-size="17" text-anchor="middle">Temperature (°C)</text>
<!-- colorbar -->
<rect x="1221" y="583" width="29" height="234" fill="url(#cbar)" stroke="#999" stroke-width="1"/>
<g stroke="#555" stroke-width="1"><line x1="1250" y1="590" x2="1255" y2="590"/><line x1="1250" y1="619" x2="1255" y2="619"/><line x1="1250" y1="648" x2="1255" y2="648"/><line x1="1250" y1="677" x2="1255" y2="677"/><line x1="1250" y1="706" x2="1255" y2="706"/><line x1="1250" y1="735" x2="1255" y2="735"/><line x1="1250" y1="764" x2="1255" y2="764"/><line x1="1250" y1="793" x2="1255" y2="793"/></g>
<g font-size="16"><text x="1257" y="596">42.5</text><text x="1257" y="625">40.0</text><text x="1257" y="654">37.5</text><text x="1257" y="683">35.0</text><text x="1257" y="712">32.0</text><text x="1257" y="741">30.0</text><text x="1257" y="770">27.5</text><text x="1257" y="799">25.0</text><text x="1259" y="829">(°C)</text></g>
</svg>
</body></html>
